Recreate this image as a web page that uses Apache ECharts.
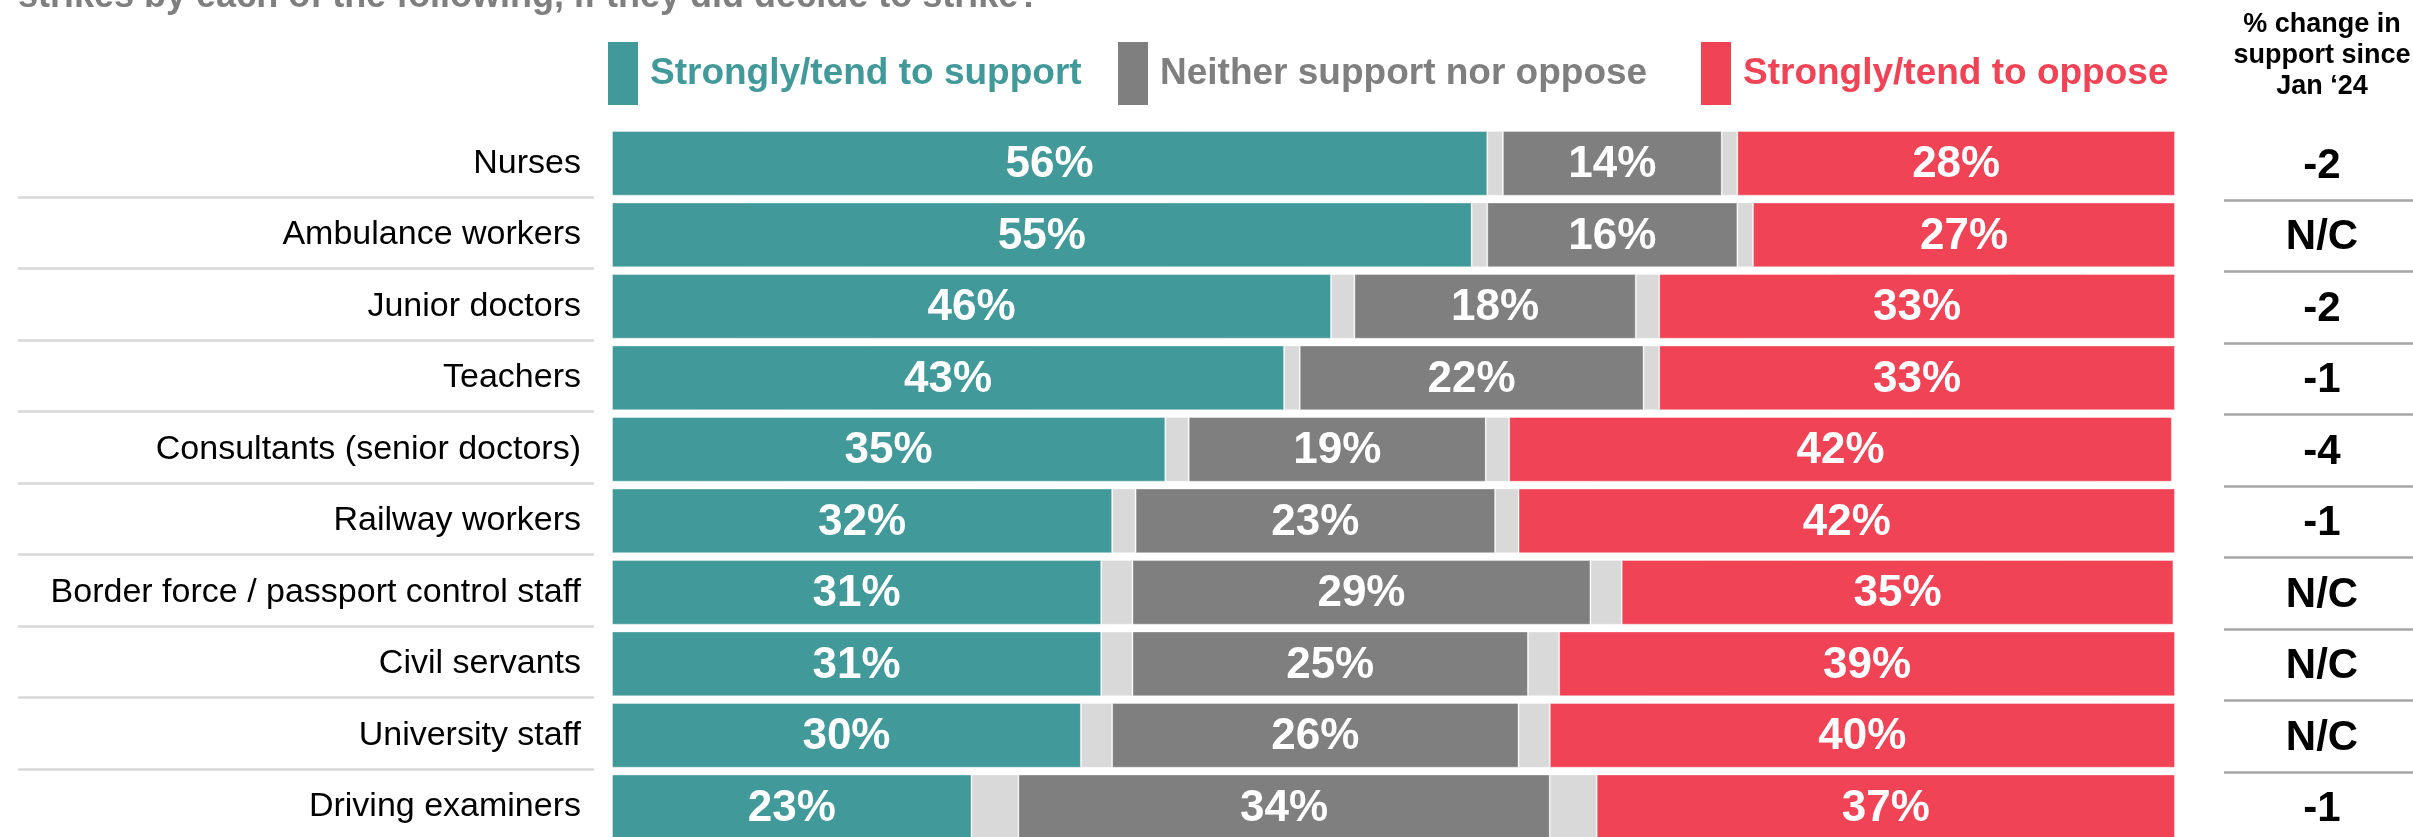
<!DOCTYPE html>
<html><head><meta charset="utf-8">
<script src="https://cdn.jsdelivr.net/npm/echarts@6/dist/echarts.min.js"></script>
<style>html,body{margin:0;padding:0;background:#fff;overflow:hidden}#c{width:2413px;height:837px}</style>
</head><body><div id="c"></div>
<script>
// ---- data ----
const categories = ['Nurses','Ambulance workers','Junior doctors','Teachers','Consultants (senior doctors)','Railway workers','Border force / passport control staff','Civil servants','University staff','Driving examiners'];
const support   = [56, 55, 46, 43, 35.4, 32, 31.3, 31.3, 30, 23];
const dontKnowA = [1, 1, 1.5, 1, 1.5, 1.5, 2, 2, 2, 3];
const neither   = [14, 16, 18, 22, 19, 23, 29.3, 25.3, 26, 34];
const dontKnowB = [1, 1, 1.5, 1, 1.5, 1.5, 2, 2, 2, 3];
const oppose    = [28, 27, 33, 33, 42.4, 42, 35.3, 39.4, 40, 37];
const changeSinceJan24 = ['-2','N/C','-2','-1','-4','-1','N/C','N/C','N/C','-1'];
const legendNames = ['Strongly/tend to support','Neither support nor oppose','Strongly/tend to oppose'];
const titleText = 'strikes by each of the following, if they did decide to strike?';
const changeHeader = '% change in\nsupport since\nJan \u201824';

// ---- styling ----
const FONT = '"Liberation Sans", Arial, Helvetica, sans-serif';
const C_SUP = '#429999', C_NEI = '#7f7f7f', C_OPP = '#f04355', C_DK = '#d9d9d9';

const chart = echarts.init(document.getElementById('c'), null, {renderer:'canvas'});

function seg(name, data, color, labelled) {
  return {
    type: 'bar', name: name, stack: 'all', data: data,
    xAxisIndex: 1, yAxisIndex: 1,
    barCategoryGap: '9.5%',
    itemStyle: {color: color, borderColor: 'rgba(255,255,255,0.35)', borderWidth: 1},
    label: labelled ? {
      show: true, position: 'inside', color: '#fff', fontFamily: FONT,
      fontWeight: 'bold', fontSize: 44, offset: [0, 2],
      formatter: p => Math.round(p.value) + '%'
    } : {show: false},
    emphasis: {disabled: true}, silent: true
  };
}

const catAxisBase = {
  type: 'category', data: categories, inverse: true,
  axisLine: {show: false}, axisTick: {show: false}
};

const legendX = [608, 1118, 1701];
const legendColors = [C_SUP, C_NEI, C_OPP];
const legendGraphics = [];
legendNames.forEach((n, i) => {
  legendGraphics.push({type: 'rect', left: legendX[i], top: 42, shape: {width: 30, height: 63}, style: {fill: legendColors[i]}});
  legendGraphics.push({type: 'text', x: legendX[i] + 42, y: 74, style: {text: n, fill: legendColors[i], font: 'bold 37px ' + FONT, textVerticalAlign: 'middle', textAlign: 'left'}});
});

const option = {
  animation: false,
  backgroundColor: '#fff',
  grid: [
    {left: 18, width: 576, top: 125.5, height: 715, outerBoundsMode: 'none', containLabel: false},
    {left: 612, width: 1563, top: 127.6, height: 715, outerBoundsMode: 'none', containLabel: false},
    {left: 2224, width: 196, top: 128.5, height: 715, outerBoundsMode: 'none', containLabel: false}
  ],
  xAxis: [
    {gridIndex: 0, type: 'value', min: 0, max: 1, show: false},
    {gridIndex: 1, type: 'value', min: 0, max: 100, show: false},
    {gridIndex: 2, type: 'value', min: 0, max: 1, show: false}
  ],
  yAxis: [
    Object.assign({}, catAxisBase, {gridIndex: 0, axisLabel: {show: false},
      splitLine: {show: true, showMinLine: false, showMaxLine: false, lineStyle: {color: '#d9d9d9', width: 2.5}}}),
    Object.assign({}, catAxisBase, {gridIndex: 1,
      axisLabel: {show: true, margin: 31, color: '#000', fontFamily: FONT, fontSize: 34},
      splitLine: {show: false}}),
    Object.assign({}, catAxisBase, {gridIndex: 2, axisLabel: {show: false},
      splitLine: {show: true, showMinLine: false, showMaxLine: false, lineStyle: {color: '#a6a6a6', width: 2.5}}})
  ],
  series: [
    seg(legendNames[0], support, C_SUP, true),
    seg('Don\u2019t know (a)', dontKnowA, C_DK, false),
    seg(legendNames[1], neither, C_NEI, true),
    seg('Don\u2019t know (b)', dontKnowB, C_DK, false),
    seg(legendNames[2], oppose, C_OPP, true),
    {
      type: 'scatter', xAxisIndex: 2, yAxisIndex: 2, silent: true,
      symbolSize: 1, itemStyle: {color: '#fff', opacity: 1},
      data: changeSinceJan24.map((v, i) => ({value: [0.5, categories[i]], name: v})),
      label: {show: true, position: 'inside', color: '#000', opacity: 1, fontFamily: FONT, fontWeight: 'bold', fontSize: 42,
        offset: [0, 2], formatter: p => p.name}
    }
  ],
  graphic: [
    {type: 'text', x: 18, y: -3, style: {text: titleText, fill: '#7f7f7f', font: 'bold 36px ' + FONT, textVerticalAlign: 'middle'}},
    {type: 'text', x: 2322, y: 9, style: {text: changeHeader, fill: '#000', font: 'bold 27px ' + FONT, textAlign: 'center', textVerticalAlign: 'top', lineHeight: 31}}
  ].concat(legendGraphics)
};
chart.setOption(option);
</script>
</body></html>
